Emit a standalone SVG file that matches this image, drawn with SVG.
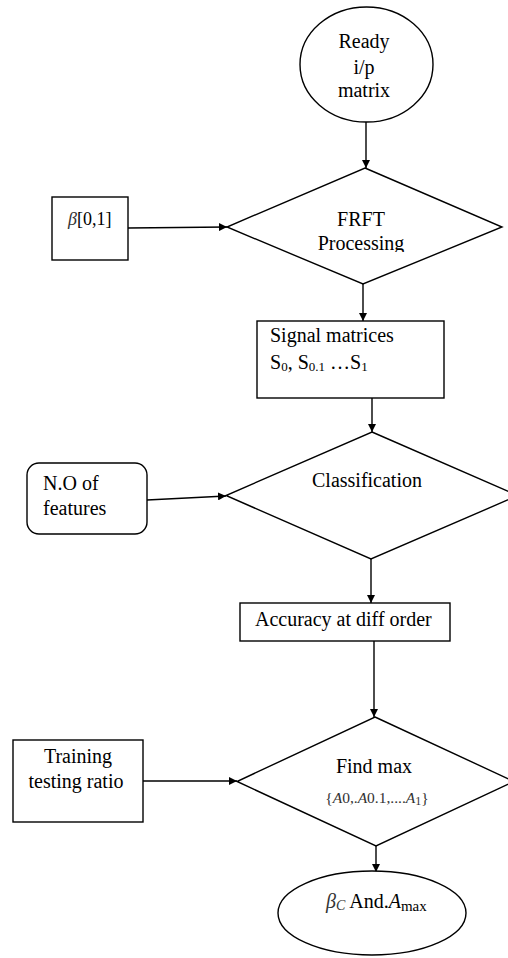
<svg xmlns="http://www.w3.org/2000/svg" width="508" height="958" viewBox="0 0 508 958">
<defs>
<style>
.s{fill:#fff;stroke:#000;stroke-width:1.4}
.t{font-family:"Liberation Serif","Times New Roman",serif;font-size:20px;fill:#000}
.c{stroke:#000;stroke-width:1.4;fill:none}
</style>
<marker id="ah" viewBox="0 0 10 10" refX="10" refY="5" markerWidth="8" markerHeight="8" markerUnits="userSpaceOnUse" orient="auto">
<path d="M0,0 L10,5 L0,10 z" fill="#000"/>
</marker>
<clipPath id="clipP"><rect x="230" y="180" width="270" height="72"/></clipPath>
</defs>
<rect width="508" height="958" fill="#fff"/>
<g id="connectors">
<line class="c" x1="366" y1="122" x2="366" y2="168" marker-end="url(#ah)"/>
<line class="c" x1="128" y1="228" x2="227" y2="227" marker-end="url(#ah)"/>
<line class="c" x1="363" y1="284" x2="363" y2="321" marker-end="url(#ah)"/>
<line class="c" x1="372" y1="398" x2="372" y2="432" marker-end="url(#ah)"/>
<line class="c" x1="147" y1="500" x2="226" y2="496" marker-end="url(#ah)"/>
<line class="c" x1="371" y1="559" x2="371" y2="603" marker-end="url(#ah)"/>
<line class="c" x1="374" y1="641" x2="374" y2="717" marker-end="url(#ah)"/>
<line class="c" x1="143" y1="781" x2="237" y2="781" marker-end="url(#ah)"/>
<line class="c" x1="376" y1="846" x2="376" y2="872" marker-end="url(#ah)"/>
</g>
<g id="ready">
<ellipse class="s" cx="366.5" cy="64.5" rx="66.5" ry="57.5"/>
<text class="t" x="364" y="48" text-anchor="middle">Ready</text>
<text class="t" x="364" y="74" text-anchor="middle">i/p</text>
<text class="t" x="364" y="97" text-anchor="middle">matrix</text>
</g>
<g id="beta">
<rect class="s" x="52" y="197" width="76" height="63"/>
<text class="t" x="68" y="225" style="font-size:18px"><tspan font-style="italic" fill="#333">β</tspan>[0,1]</text>
</g>
<g id="frft">
<polygon class="s" points="365,168 502,227 363,284 227,227"/>
<text class="t" x="361" y="226" text-anchor="middle">FRFT</text>
<text class="t" x="361" y="250" text-anchor="middle" clip-path="url(#clipP)">Processing</text>
</g>
<g id="signal">
<rect class="s" x="257" y="321" width="187" height="77"/>
<text class="t" x="270" y="342">Signal matrices</text>
<text class="t" x="270" y="369">S<tspan font-size="13" dy="2">0</tspan><tspan dy="-2">, S</tspan><tspan font-size="13" dy="2">0.1</tspan><tspan dy="-2"> …S</tspan><tspan font-size="13" dy="2">1</tspan></text>
</g>
<g id="features">
<rect class="s" x="27" y="463" width="120" height="71" rx="12" ry="12"/>
<text class="t" x="43" y="490">N.O of</text>
<text class="t" x="43" y="515">features</text>
</g>
<g id="classification">
<polygon class="s" points="372,432 518,495.5 371,559 226,495.5"/>
<text class="t" x="367" y="487" text-anchor="middle">Classification</text>
</g>
<g id="accuracy">
<rect class="s" x="240" y="603" width="210" height="38"/>
<text class="t" x="255" y="626">Accuracy at diff order</text>
</g>
<g id="training">
<rect class="s" x="13" y="740" width="130" height="82"/>
<text class="t" x="78" y="763" text-anchor="middle">Training</text>
<text class="t" x="76" y="788" text-anchor="middle">testing ratio</text>
</g>
<g id="findmax">
<polygon class="s" points="375,717 514,781.5 376,846 237,781.5"/>
<text class="t" x="374" y="773" text-anchor="middle">Find max</text>
<text class="t" x="377" y="803" text-anchor="middle" style="font-size:15.5px;fill:#333">{<tspan font-style="italic">A</tspan>0,.<tspan font-style="italic">A</tspan>0.1,....<tspan font-style="italic">A</tspan><tspan font-size="12" dy="2">1</tspan><tspan dy="-2">}</tspan></text>
</g>
<g id="result">
<ellipse class="s" cx="372" cy="913" rx="94" ry="42"/>
<text class="t" x="326" y="908"><tspan font-style="italic" fill="#333">β<tspan font-size="14" dy="2">C</tspan></tspan><tspan dy="-2"> And.</tspan><tspan font-style="italic">A</tspan><tspan font-size="15" dy="3">max</tspan></text>
</g>
</svg>
